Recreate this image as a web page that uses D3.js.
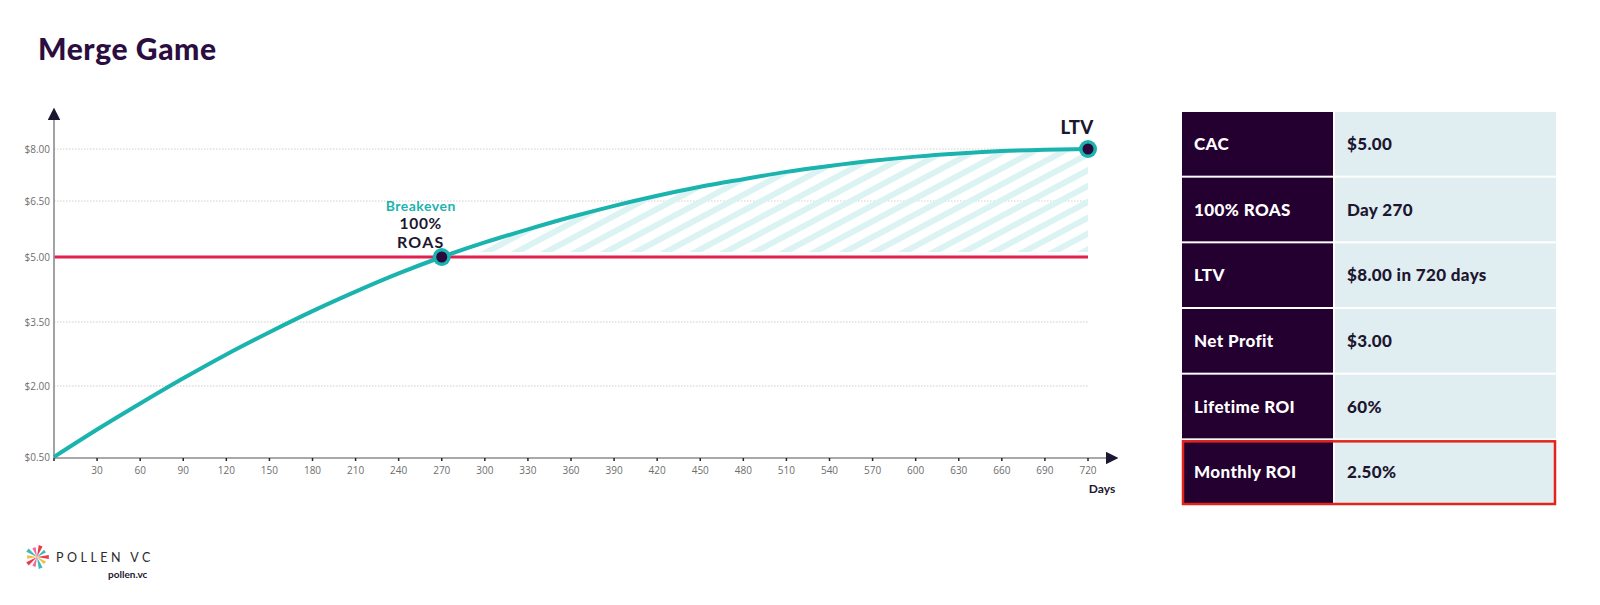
<!DOCTYPE html>
<html><head><meta charset="utf-8">
<script src="https://cdn.jsdelivr.net/npm/d3@7"></script>
<style>
html,body{margin:0;padding:0;background:#fff;}
svg{display:block;}
</style></head>
<body>
<svg id="chart" width="1600" height="605"></svg>
<script>
// ---- data ----
const title = "Merge Game";
const days = [0,30,60,90,120,150,180,210,240,270,300,330,360,390,420,450,480,510,540,570,600,630,660,690,720];
const ltvValues = [0.5,1.08,1.63,2.18,2.74,3.26,3.75,4.20,4.62,5.00,5.39,5.74,6.07,6.37,6.65,6.91,7.13,7.34,7.51,7.66,7.78,7.87,7.94,7.98,8.00];
const cac = 5.0;
const breakevenDay = 270;
const ltvDay = 720;
const ltvValue = 8.0;
const yTicks = [0.5,2,3.5,5,6.5,8];
const xTicks = [30,60,90,120,150,180,210,240,270,300,330,360,390,420,450,480,510,540,570,600,630,660,690,720];
const tableLabels = ["CAC","100% ROAS","LTV","Net Profit","Lifetime ROI","Monthly ROI"];
const tableValues = ["$5.00","Day 270","$8.00 in 720 days","$3.00","60%","2.50%"];
const highlightRow = 5;

// ---- layout ----
const C = {teal:"#1bb3ae", red:"#e0204f", dark:"#23002f", light:"#e1eef1", purple:"#2b0d40", grid:"#cfcfcf", axis:"#8c8c8c", tick:"#6e6e6e"};
const X0 = 54, X1 = 1088;
const Y_RANGE = [457,386,322,257,201,149];
const AXIS_Y = 458;

const svg = d3.select("#chart");
const x = d3.scaleLinear().domain([0,720]).range([X0,X1]);
const y = d3.scaleLinear().domain(yTicks).range(Y_RANGE);

// title
svg.append("text").attr("x",38).attr("y",60)
  .attr("font-family","Lato").attr("font-weight",900).attr("font-size",30).attr("letter-spacing",0.6)
  .attr("fill",C.purple).text(title);

// defs
const defs = svg.append("defs");
const pat = defs.append("pattern").attr("id","hatch").attr("patternUnits","userSpaceOnUse")
  .attr("width",14).attr("height",14).attr("patternTransform","rotate(-28)");
pat.append("rect").attr("x",0).attr("y",0).attr("width",14).attr("height",6).attr("fill","#dbf3f3");
defs.append("marker").attr("id","arrowUp").attr("viewBox","0 0 10 10").attr("refX",5).attr("refY",5)
  .attr("markerWidth",8).attr("markerHeight",8).attr("orient","auto")
  .append("path").attr("d","M0,0L10,5L0,10Z").attr("fill","#1d1630");

const pts = days.map((d,i)=>({d, v:ltvValues[i]}));

// gridlines
svg.append("g").selectAll("line").data(yTicks.filter(t=>t!==yTicks[0] && t!==cac)).join("line")
  .attr("x1",X0).attr("x2",x(ltvDay)).attr("y1",d=>y(d)).attr("y2",d=>y(d))
  .attr("stroke",C.grid).attr("stroke-width",1).attr("stroke-dasharray","1.5,1.5");

// hatched area
const hatchPts = pts.filter(p=>p.d>=breakevenDay);
const area = d3.area().x(p=>x(p.d)).y0(y(cac)-5).y1(p=>y(p.v)+2).curve(d3.curveMonotoneX);
svg.append("path").datum(hatchPts).attr("d",area).attr("fill","url(#hatch)");

// CAC line
svg.append("line").attr("x1",X0).attr("x2",x(ltvDay)).attr("y1",y(cac)).attr("y2",y(cac))
  .attr("stroke",C.red).attr("stroke-width",3);

// axes
svg.append("line").attr("x1",X0).attr("x2",X0).attr("y1",AXIS_Y).attr("y2",114)
  .attr("stroke",C.axis).attr("stroke-width",1.6).attr("marker-end","url(#arrowUp)");
svg.append("line").attr("x1",X0).attr("x2",1112).attr("y1",AXIS_Y).attr("y2",AXIS_Y)
  .attr("stroke",C.axis).attr("stroke-width",1.6).attr("marker-end","url(#arrowUp)");

// x ticks
const xt = svg.append("g");
xt.selectAll("line").data([0,...xTicks]).join("line")
  .attr("x1",d=>x(d)).attr("x2",d=>x(d)).attr("y1",AXIS_Y).attr("y2",AXIS_Y+3)
  .attr("stroke","#222").attr("stroke-width",1.5);
xt.selectAll("text").data(xTicks).join("text")
  .attr("x",d=>x(d)).attr("y",AXIS_Y+16).attr("text-anchor","middle")
  .attr("font-family","Open Sans").attr("font-size",10).attr("fill",C.tick).text(d=>d);
svg.append("text").attr("x",1102).attr("y",493).attr("text-anchor","middle")
  .attr("font-family","Lato").attr("font-weight",700).attr("font-size",12).attr("fill","#1d1630").text("Days");

// y labels
svg.append("g").selectAll("text").data(yTicks).join("text")
  .attr("x",X0-4).attr("y",d=>y(d)+3.5).attr("text-anchor","end")
  .attr("font-family","Open Sans").attr("font-size",10).attr("fill",C.tick)
  .text(d=>"$"+d.toFixed(2));

// LTV curve
const line = d3.line().x(p=>x(p.d)).y(p=>y(p.v)).curve(d3.curveMonotoneX);
svg.append("path").datum(pts).attr("d",line).attr("fill","none")
  .attr("stroke",C.teal).attr("stroke-width",4);

// points
[[breakevenDay,cac],[ltvDay,ltvValue]].forEach(([d,v])=>{
  svg.append("circle").attr("cx",x(d)).attr("cy",y(v)).attr("r",9).attr("fill",C.teal);
  svg.append("circle").attr("cx",x(d)).attr("cy",y(v)).attr("r",5.5).attr("fill","#2a0a3c");
});

// annotations
const bx = x(breakevenDay)-21;
svg.append("text").attr("x",bx).attr("y",y(cac)-46).attr("text-anchor","middle")
  .attr("font-family","Lato").attr("font-weight",700).attr("font-size",14).attr("letter-spacing",0.5)
  .attr("fill",C.teal).text("Breakeven");
svg.append("text").attr("x",bx).attr("y",y(cac)-28).attr("text-anchor","middle")
  .attr("font-family","Lato").attr("font-weight",700).attr("font-size",15.5).attr("letter-spacing",0.7)
  .attr("fill","#1d1630").text("100%");
svg.append("text").attr("x",bx).attr("y",y(cac)-9).attr("text-anchor","middle")
  .attr("font-family","Lato").attr("font-weight",700).attr("font-size",16).attr("letter-spacing",1.2)
  .attr("fill","#1d1630").text("ROAS");
svg.append("text").attr("x",x(ltvDay)-11).attr("y",y(ltvValue)-15).attr("text-anchor","middle")
  .attr("font-family","Lato").attr("font-weight",900).attr("font-size",18.5).attr("letter-spacing",0.3)
  .attr("fill","#1d1630").text("LTV");

// table
const TX = 1182, TS = 1333, TR = 1556, TT = 112, TB = 506;
const rowH = (TB-TT)/tableLabels.length;
const tg = svg.append("g");
tableLabels.forEach((lab,i)=>{
  const ty = TT + i*rowH;
  tg.append("rect").attr("x",TX).attr("y",ty).attr("width",TS-TX).attr("height",rowH-2).attr("fill",C.dark);
  tg.append("rect").attr("x",TS+2).attr("y",ty).attr("width",TR-TS-2).attr("height",rowH-2).attr("fill",C.light);
  tg.append("text").attr("x",TX+12).attr("y",ty+rowH/2+5).attr("font-family","Lato").attr("font-weight",900)
    .attr("font-size",17).attr("letter-spacing",0.4).attr("fill","#fff").text(lab);
  tg.append("text").attr("x",TS+14).attr("y",ty+rowH/2+5).attr("font-family","Lato").attr("font-weight",900)
    .attr("font-size",17).attr("letter-spacing",0.35).attr("fill","#1d1630").text(tableValues[i]);
});
{
  const ty = TT + highlightRow*rowH;
  tg.append("rect").attr("x",TX+1).attr("y",ty+1).attr("width",TR-TX-2).attr("height",rowH-3)
    .attr("fill","none").attr("stroke","#e3241b").attr("stroke-width",2.5);
}

// logo
const lg = svg.append("g").attr("transform","translate(37,557)");
const rayColors = ["#e8263a","#f3b530","#28b4ae","#ef5b8c","#e8263a","#f3b530","#28b4ae","#ef5b8c","#e8263a","#28b4ae"];
rayColors.forEach((c,i)=>{
  const a = i*2*Math.PI/rayColors.length;
  const len = i%2 ? 10 : 12;
  lg.append("path").attr("d",`M0,0L${Math.cos(a-0.17)*len},${Math.sin(a-0.17)*len}L${Math.cos(a+0.17)*len},${Math.sin(a+0.17)*len}Z`)
    .attr("fill",c).attr("opacity",0.9);
});
svg.append("text").attr("x",56).attr("y",562).attr("font-family","Lato").attr("font-size",12.5)
  .attr("letter-spacing",3.5).attr("fill","#2a2a2a").text("POLLEN VC");
svg.append("text").attr("x",108).attr("y",578).attr("font-family","Lato").attr("font-weight",700).attr("font-size",10)
  .attr("fill","#1d1630").text("pollen.vc");
</script>
</body></html>
